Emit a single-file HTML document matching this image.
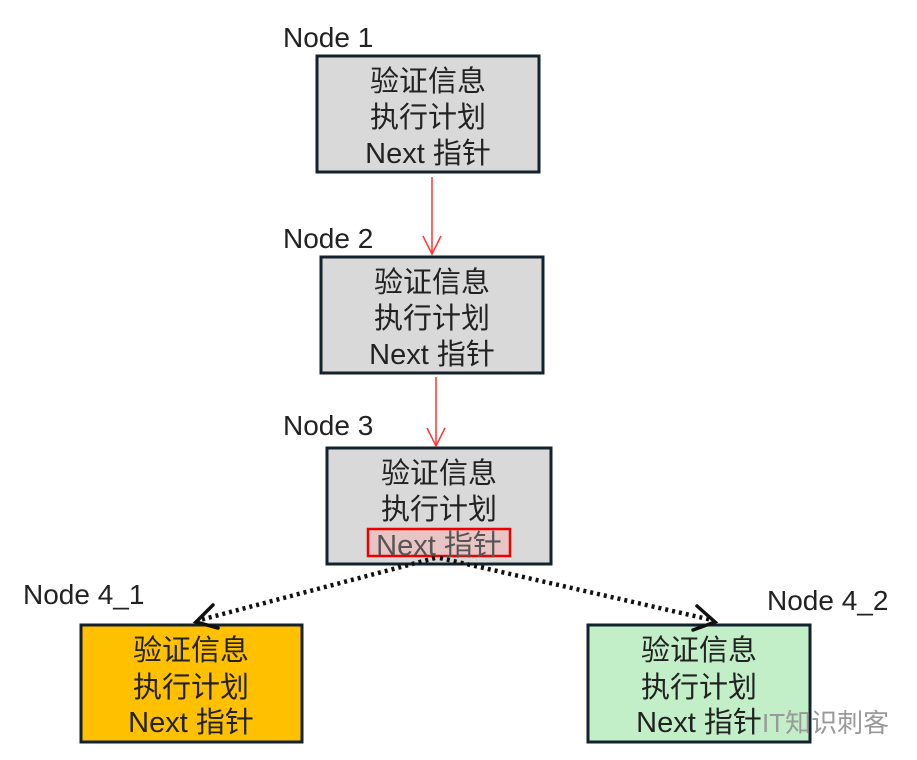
<!DOCTYPE html>
<html><head><meta charset="utf-8"><style>
html,body{margin:0;padding:0;background:#fff;}
svg{display:block;}
text{font-family:"Liberation Sans","Noto Sans CJK SC",sans-serif;}
</style></head><body>
<svg width="917" height="760" viewBox="0 0 917 760" xmlns="http://www.w3.org/2000/svg">
<g font-size="28" fill="#222">
<text x="283" y="47">Node 1</text>
<text x="283" y="248">Node 2</text>
<text x="283" y="435">Node 3</text>
<text x="23" y="604">Node 4_1</text>
<text x="767" y="610">Node 4_2</text>
</g>
<g stroke="#12222e" stroke-width="3">
<rect x="317" y="56" width="222" height="116" fill="#d9d9d9"/>
<rect x="321" y="257" width="222" height="116" fill="#d9d9d9"/>
<rect x="327" y="448" width="224" height="116" fill="#d9d9d9"/>
<rect x="81" y="625" width="221" height="117" fill="#ffc000"/>
<rect x="588" y="625" width="222" height="117" fill="#c2efc8"/>
</g>
<rect x="368" y="529" width="142" height="27" fill="#e8c4c4" stroke="#e00" stroke-width="2.5"/>
<g font-size="29" fill="#222" text-anchor="middle">
<text x="428" y="91">验证信息</text><text x="428" y="127">执行计划</text><text x="428" y="163">Next 指针</text>
<text x="432" y="292">验证信息</text><text x="432" y="328">执行计划</text><text x="432" y="364">Next 指针</text>
<text x="439" y="483">验证信息</text><text x="439" y="519">执行计划</text><text x="439" y="555" fill="#555">Next 指针</text>
<text x="191" y="660">验证信息</text><text x="191" y="697">执行计划</text><text x="191" y="732">Next 指针</text>
<text x="699" y="660">验证信息</text><text x="699" y="697">执行计划</text><text x="699" y="732">Next 指针</text>
</g>
<text x="762" y="732" font-size="26" fill="#999">IT知识刺客</text>
<g stroke="#f33" stroke-width="1.5" fill="none">
<line x1="432" y1="177" x2="432" y2="254"/>
<polyline points="423,236 432,254 441,236"/>
<line x1="436" y1="377" x2="436" y2="446"/>
<polyline points="427,428 436,446 445,428"/>
</g>
<g stroke="#111" stroke-width="4.5" fill="none" stroke-dasharray="3,4">
<line x1="435" y1="558" x2="200" y2="620"/>
<line x1="440" y1="558" x2="712" y2="620"/>
</g>
<g stroke="#111" stroke-width="3.5" fill="none" stroke-linecap="round">
<polyline points="213,605 196,622 218,628"/>
<polyline points="697,606 715,622 693,630"/>
</g>
</svg>
</body></html>
